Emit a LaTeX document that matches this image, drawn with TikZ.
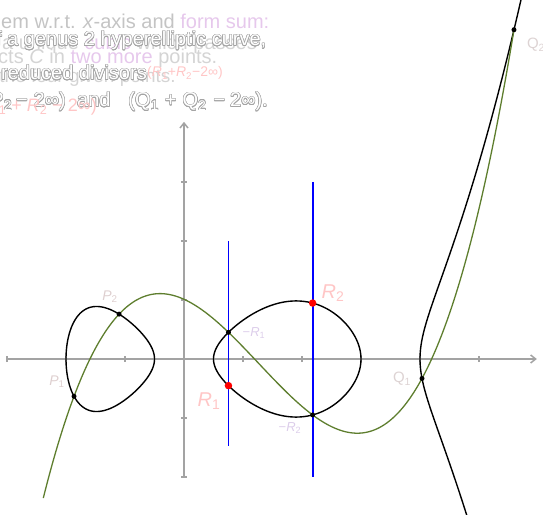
\documentclass[tikz,border=0pt]{standalone}
\usepackage{fontspec}
\setmainfont{Liberation Sans}
\usepackage{contour}
\contourlength{0.5pt}
\usetikzlibrary{arrows.meta,calc}
\definecolor{axgray}{HTML}{A3A3A3}
\definecolor{cgreen}{HTML}{5E7E2E}
\definecolor{plab}{HTML}{DECFCF}
\definecolor{rlab}{HTML}{FFC6C6}
\definecolor{nlab}{HTML}{DCCDEA}
\definecolor{qlab}{HTML}{DDD3D3}
\definecolor{tfaint}{HTML}{D4D4D4}
\definecolor{tlight}{HTML}{C4C4C4}
\definecolor{tlav}{HTML}{E6C8EC}
\definecolor{tpink}{HTML}{FFC6C6}
\definecolor{toutl}{HTML}{A4A4A4}
\begin{document}
\begin{tikzpicture}[x=59pt,y=59pt,
  declare function={
    fa(\u)=0.032*(\u-0.5)*(\u-3)*(\u-4);
    fb(\u)=0.032*(\u+2)*(\u+0.5)*(\u-4);
    fc(\u)=0.032*(\u+2)*(\u+0.5)*(\u-0.5)*(\u-3);
    hc(\u)=-0.6327+1.8233*(\u+1.864)-0.579654*(\u+1.864)*(\u+1.1)+0.126491*(\u+1.864)*(\u+1.1)*(\u-2.18);
  },
  axis/.style={draw=axgray,line width=1.5pt},
  curve/.style={draw=black,line width=1.4pt,line join=round},
  cubic/.style={draw=cgreen,line width=1.3pt},
  blueline/.style={draw=blue,line width=1.8pt},
  bdot/.style={circle,fill=black,inner sep=0pt,minimum size=5pt},
  rdot/.style={circle,fill=red,inner sep=0pt,minimum size=7.5pt},
  lab/.style={inner sep=0pt,anchor=center},
  txt/.style={inner sep=0pt,anchor=base west,font=\fontsize{20}{24}\selectfont}
]
\useasboundingbox (-184pt,-155pt) rectangle (359pt,359pt);

% axes
\coordinate (xl) at (-3,0);
\coordinate (xr) at (5.98,0);
\coordinate (yb) at (0,-2);
\coordinate (yt) at (0,4.02);
\draw[axis,-{Straight Barb[length=5pt,width=8pt]}] (xl) -- (xr);
\draw[axis,-{Straight Barb[length=5pt,width=8pt]}] (yb) -- (yt);
\foreach \i in {-3,-2,-1,1,2,3,4,5} \draw[axis] (\i,0) ++(0,-3pt) -- ++(0,6pt);
\foreach \j in {-2,-1,1,2,3} \draw[axis] (0,\j) ++(-3pt,0) -- ++(6pt,0);

% hyperelliptic curve
\draw[curve] plot[domain=0:360,samples=241,variable=\t]
  ({-1.25-0.75*cos(\t)},{0.75*sin(\t)*sqrt(-fa(-1.25-0.75*cos(\t)))}) -- cycle;
\draw[curve] plot[domain=0:360,samples=241,variable=\t]
  ({1.75-1.25*cos(\t)},{1.25*sin(\t)*sqrt(-fb(1.75-1.25*cos(\t)))}) -- cycle;
\draw[curve] plot[domain=-0.93:1.33,samples=160,variable=\s]
  ({4+\s*\s},{\s*sqrt(fc(4+\s*\s))});

% cubic
\draw[cubic] plot[domain=-2.385:5.593,samples=220] (\x,{hc(\x)});

% points
\coordinate (cP1) at (-1.864,-0.6327);
\coordinate (cP2) at (-1.1,0.7603);
\coordinate (cN1) at (0.7535,0.452);
\coordinate (cR1) at (0.7535,-0.452);
\coordinate (cN2) at (2.18,-0.948);
\coordinate (cR2) at (2.18,0.948);
\coordinate (cQ1) at (4.034,-0.330);
\coordinate (cQ2) at (5.593,5.5808);

% vertical lines
\coordinate (b1t) at (0.7535,2);
\coordinate (b1b) at (0.7535,-1.475);
\coordinate (b2t) at (2.18,3);
\coordinate (b2b) at (2.18,-2);
\draw[blueline] (b1t) -- (b1b);
\draw[blueline] (b2t) -- (b2b);

\node[bdot] (P1) at (cP1) {};
\node[bdot] (P2) at (cP2) {};
\node[bdot] (N1) at (cN1) {};
\node[bdot] (N2) at (cN2) {};
\node[bdot] (Q1) at (cQ1) {};
\node[bdot] (Q2) at (cQ2) {};
\node[rdot] (R1) at (cR1) {};
\node[rdot] (R2) at (cR2) {};

% pixel-based scope for texts
\begin{scope}[shift={(-184pt,359pt)},x=1pt,y=-1pt]
  \node[lab,text=plab,font=\fontsize{14}{16}\selectfont] (lP2) at (110,297) {\textit{P}\textsubscript{2}};
  \node[lab,text=plab,font=\fontsize{14}{16}\selectfont] (lP1) at (57,382) {\textit{P}\textsubscript{1}};
  \node[lab,text=nlab,font=\fontsize{13}{15}\selectfont] (lN1) at (254,333) {−\textit{R}\textsubscript{1}};
  \node[lab,text=nlab,font=\fontsize{13}{15}\selectfont] (lN2) at (290,428) {−\textit{R}\textsubscript{2}};
  \node[lab,text=rlab,font=\fontsize{20}{24}\selectfont] (lR1) at (209,401) {\textit{R}\textsubscript{1}};
  \node[lab,text=rlab,font=\fontsize{20}{24}\selectfont] (lR2) at (333,293) {\textit{R}\textsubscript{2}};
  \node[lab,text=qlab,font=\fontsize{15}{17}\selectfont] (lQ1) at (402,379) {Q\textsubscript{1}};
  \node[lab,text=qlab,font=\fontsize{15}{17}\selectfont] (lQ2) at (536,45) {Q\textsubscript{2}};

  \node[txt,text=tlight] (t1) at (1,29) {em w.r.t. \textit{x}-axis and \textcolor{tlav}{form sum:}};
  \node[txt,text=tfaint] (t2) at (2,50) {a unique \textcolor{tlav}{cubic} which passes};
  \node[txt,text=tfaint] (t3) at (-2,64) {cts \textit{C} in \textcolor{tlav}{two more} points.};
  \node[txt,text=tfaint,anchor=base east,font=\fontsize{19}{23}\selectfont] (t4) at (176,83) {the four given points.};
  \node[txt,text=tpink,anchor=base east,font=\fontsize{14}{16}\selectfont] (t5) at (223,77) {(\textit{R}\textsubscript{1}+\textit{R}\textsubscript{2}−2∞)};
  \node[txt] (t7) at (-15.2,46) {\contour{toutl}{\color{white}of a genus 2 hyperelliptic curve,}};
  \node[txt] (t8) at (1,80) {\contour{toutl}{\color{white}reduced divisors}};
  \node[txt,anchor=base east] (t9a) at (66,107) {\contour{toutl}{\color{white}(P\textsubscript{1}\hspace{7pt}+\hspace{7pt}P\textsubscript{2}\hspace{4pt}−\hspace{6pt}2∞)}};
  \node[txt] (t9b) at (77,107) {\contour{toutl}{\color{white}and}};
  \node[txt,anchor=base east] (t9c) at (268,107) {\contour{toutl}{\color{white}(Q\textsubscript{1}\hspace{6pt}+\hspace{6pt}Q\textsubscript{2}\hspace{7pt}−\hspace{5pt}2∞).}};
  \node[txt,text=tpink,anchor=base east,font=\fontsize{18}{22}\selectfont] (t6) at (97,112) {(\textit{R}\textsubscript{1} + \textit{R}\textsubscript{2} − 2∞)};
\end{scope}
\end{tikzpicture}
\end{document}
